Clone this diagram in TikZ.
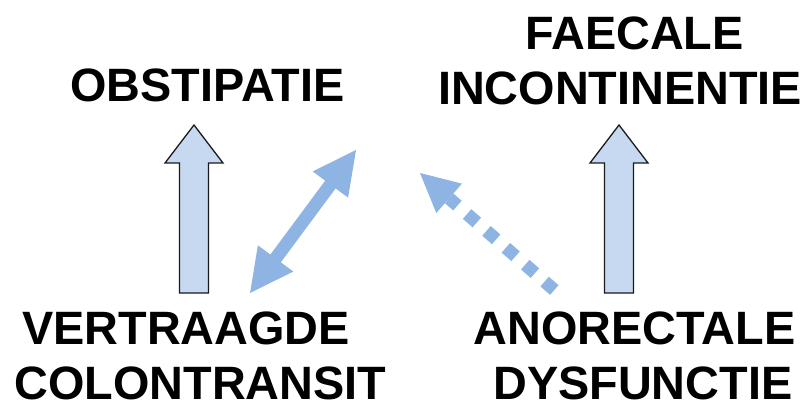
\documentclass[tikz,border=0pt]{standalone}
\usepackage{fontspec}
\setmainfont{Liberation Sans}
\usetikzlibrary{calc}
\definecolor{upfill}{HTML}{C6D9F1}
\definecolor{linkblue}{HTML}{8DB4E2}
\definecolor{edgegray}{HTML}{1A1A1A}
\begin{document}
\begin{tikzpicture}[x=1pt,y=-1pt,
  lbl/.style={font=\fontsize{46.8}{55}\selectfont\bfseries, inner sep=0pt, anchor=base},
  uparrow/.style={fill=upfill, draw=edgegray, line width=1.3pt, line join=miter},
  link/.style={fill=linkblue, draw=none},
  blockup/.pic={\draw[uparrow] (-14.5,0) -- (-14.5,-130) -- (-29,-130) -- (0,-168) -- (29,-130) -- (14.5,-130) -- (14.5,0) -- cycle;}]
\useasboundingbox (0,0) rectangle (808,406);

% labels (base anchor = baseline of the last line)
\node[lbl] (obst) at (207.5,101.5) {OBSTIPATIE};
\node[lbl, align=center] (fi) at (620,104.5) {\hspace*{29pt}FAECALE\\INCONTINENTIE};
\node[lbl, align=center] (vc) at (200.5,399) {VERTRAAGDE\hspace*{29pt}\\COLONTRANSIT};
\node[lbl, align=right, anchor=base east] (ad) at (795.5,399) {ANORECTALE\\DYSFUNCTIE\hspace*{3pt}};

% vertical block arrows
\pic (upL) at (194,293) {blockup};
\pic (upR) at (619,293) {blockup};

% double-headed arrow
\coordinate (dA) at (356,150);
\coordinate (dB) at (250,293);
\coordinate (hA) at ($(dA)!43pt!(dB)$);
\coordinate (hB) at ($(dB)!43pt!(dA)$);
\fill[link] (dA) -- ($(hA)!22pt!90:(dA)$) -- ($(hA)!6.5pt!90:(dA)$)
  -- ($(hB)!6.5pt!-90:(dB)$) -- ($(hB)!22pt!-90:(dB)$) -- (dB)
  -- ($(hB)!22pt!90:(dB)$) -- ($(hB)!6.5pt!90:(dB)$)
  -- ($(hA)!6.5pt!-90:(dA)$) -- ($(hA)!22pt!-90:(dA)$) -- cycle;

% dotted arrow
\coordinate (pTip) at (420,173);
\coordinate (pTail) at (554.3,290.0);
\coordinate (pBase) at ($(pTip)!38.6pt!(pTail)$);
\draw[linkblue, line width=12.85pt, dash pattern=on 12.85pt off 12.85pt] (pTail) -- (pBase);
\fill[link] (pTip) -- ($(pBase)!19.5pt!90:(pTip)$) -- ($(pBase)!19.5pt!-90:(pTip)$) -- cycle;
\end{tikzpicture}
\end{document}
